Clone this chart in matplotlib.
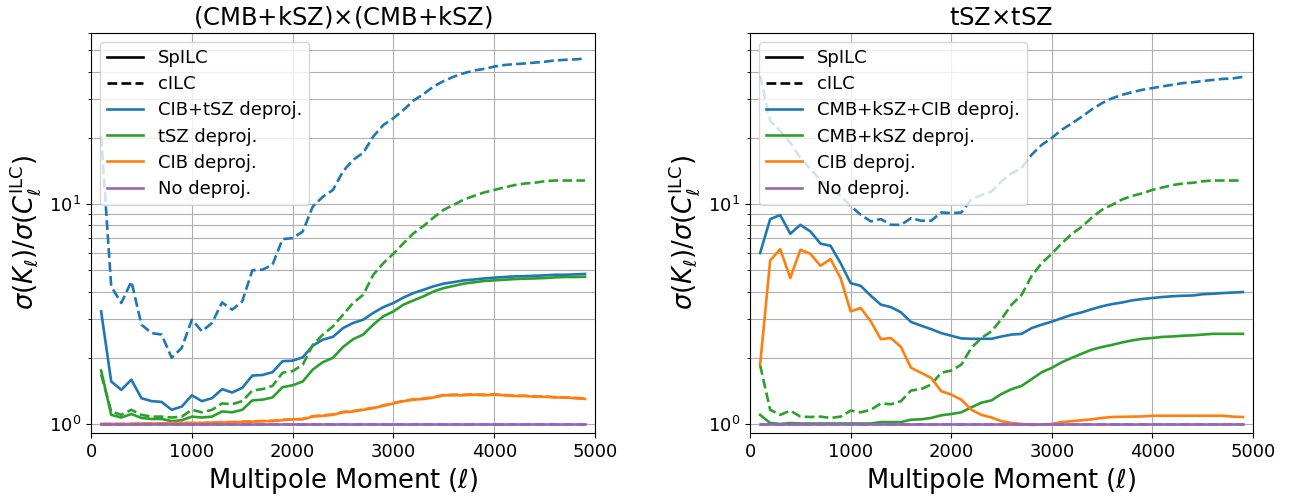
import matplotlib
matplotlib.use("Agg")
import matplotlib.pyplot as plt
from matplotlib.lines import Line2D

# multipoles
ell = [100 * k for k in range(1, 50)]

# ---- left panel: (CMB+kSZ)x(CMB+kSZ) ----
left_cibtsz_sp = [3.25, 1.56, 1.43, 1.59, 1.31, 1.27, 1.26, 1.16, 1.20, 1.35,
                  1.27, 1.31, 1.44, 1.39, 1.46, 1.66, 1.67, 1.72, 1.93, 1.94,
                  2.01, 2.27, 2.42, 2.49, 2.73, 2.88, 2.98, 3.20, 3.40, 3.55,
                  3.76, 3.94, 4.08, 4.23, 4.35, 4.42, 4.50, 4.54, 4.59, 4.63,
                  4.66, 4.69, 4.70, 4.72, 4.74, 4.77, 4.77, 4.79, 4.81]
left_cibtsz_c = [20.3, 4.22, 3.55, 4.45, 2.83, 2.59, 2.55, 2.00, 2.22, 2.98,
                 2.64, 2.88, 3.57, 3.31, 3.61, 5.00, 5.03, 5.30, 6.93, 7.00,
                 7.50, 9.76, 10.8, 11.6, 14.1, 15.9, 17.1, 20.3, 22.9, 24.6,
                 26.8, 29.6, 31.7, 34.3, 36.3, 38.0, 39.4, 40.5, 41.2, 42.2,
                 42.9, 43.3, 43.6, 44.0, 44.4, 45.0, 45.3, 45.5, 45.9]
left_tsz_sp = [1.75, 1.10, 1.07, 1.11, 1.065, 1.054, 1.054, 1.03, 1.04, 1.08,
               1.07, 1.08, 1.14, 1.13, 1.16, 1.28, 1.29, 1.32, 1.47, 1.50,
               1.56, 1.77, 1.91, 2.00, 2.24, 2.43, 2.55, 2.83, 3.09, 3.25,
               3.49, 3.65, 3.81, 4.01, 4.15, 4.25, 4.35, 4.41, 4.47, 4.50,
               4.53, 4.56, 4.58, 4.59, 4.61, 4.64, 4.66, 4.66, 4.67]
left_tsz_c = [1.68, 1.14, 1.10, 1.16, 1.10, 1.08, 1.08, 1.07, 1.08, 1.16,
              1.13, 1.16, 1.24, 1.23, 1.27, 1.42, 1.44, 1.49, 1.71, 1.74,
              1.86, 2.29, 2.55, 2.78, 3.14, 3.55, 3.87, 4.77, 5.39, 5.95,
              6.64, 7.37, 7.96, 8.70, 9.43, 9.93, 10.5, 10.9, 11.3, 11.6,
              11.9, 12.2, 12.4, 12.5, 12.7, 12.8, 12.8, 12.8, 12.8]
left_cib_sp = [1.00, 1.00, 1.00, 1.00, 1.005, 1.005, 1.005, 1.01, 1.01, 1.01,
               1.01, 1.015, 1.015, 1.02, 1.02, 1.025, 1.03, 1.03, 1.04, 1.05,
               1.05, 1.08, 1.09, 1.10, 1.13, 1.14, 1.16, 1.18, 1.21, 1.24,
               1.27, 1.29, 1.30, 1.32, 1.35, 1.35, 1.35, 1.36, 1.35, 1.36,
               1.35, 1.34, 1.34, 1.33, 1.33, 1.32, 1.32, 1.31, 1.30]
left_cib_c = [1.00, 1.00, 1.00, 1.00, 1.005, 1.005, 1.005, 1.01, 1.01, 1.01,
              1.01, 1.015, 1.02, 1.02, 1.025, 1.03, 1.03, 1.035, 1.045, 1.05,
              1.055, 1.085, 1.095, 1.105, 1.135, 1.145, 1.165, 1.185, 1.215, 1.245,
              1.275, 1.295, 1.305, 1.325, 1.355, 1.36, 1.36, 1.365, 1.36, 1.365,
              1.355, 1.345, 1.345, 1.335, 1.335, 1.325, 1.32, 1.315, 1.305]
left_none = [1.0] * 49

# ---- right panel: tSZ x tSZ ----
right_all_sp = [5.99, 8.55, 8.91, 7.33, 8.05, 7.51, 6.61, 6.46, 5.39, 4.37,
                4.25, 3.83, 3.49, 3.40, 3.22, 2.91, 2.80, 2.70, 2.59, 2.52,
                2.45, 2.44, 2.44, 2.44, 2.50, 2.55, 2.57, 2.73, 2.83, 2.92,
                3.03, 3.14, 3.22, 3.33, 3.43, 3.51, 3.57, 3.65, 3.70, 3.74,
                3.78, 3.81, 3.83, 3.84, 3.89, 3.91, 3.94, 3.96, 3.98]
right_all_c = [38.3, 23.9, 21.5, 19.0, 16.2, 14.4, 12.9, 11.9, 10.9, 9.8,
               8.95, 8.34, 8.55, 8.05, 8.05, 8.63, 8.40, 8.40, 9.16, 9.10,
               9.16, 10.5, 11.0, 11.4, 12.7, 13.8, 14.6, 16.8, 18.6, 20.0,
               21.8, 23.3, 25.0, 27.0, 28.8, 30.3, 31.4, 32.3, 33.1, 33.7,
               34.3, 34.9, 35.5, 35.8, 36.3, 36.7, 37.1, 37.3, 37.9]
right_cmb_sp = [1.10, 1.01, 1.00, 1.01, 1.005, 1.005, 1.005, 1.005, 1.005, 1.005,
                1.005, 1.005, 1.02, 1.02, 1.02, 1.046, 1.05, 1.065, 1.095, 1.11,
                1.13, 1.19, 1.25, 1.28, 1.37, 1.44, 1.49, 1.60, 1.72, 1.80,
                1.91, 2.00, 2.09, 2.18, 2.24, 2.29, 2.35, 2.40, 2.44, 2.46,
                2.49, 2.50, 2.52, 2.53, 2.55, 2.57, 2.57, 2.57, 2.57]
right_cmb_c = [1.85, 1.16, 1.10, 1.15, 1.08, 1.076, 1.08, 1.065, 1.08, 1.15,
               1.13, 1.16, 1.24, 1.23, 1.27, 1.42, 1.44, 1.51, 1.71, 1.75,
               1.86, 2.22, 2.46, 2.64, 3.00, 3.49, 3.87, 4.72, 5.39, 5.95,
               6.64, 7.33, 7.90, 8.70, 9.43, 9.93, 10.5, 10.9, 11.2, 11.6,
               11.9, 12.2, 12.4, 12.5, 12.7, 12.8, 12.8, 12.8, 12.8]
right_cib_sp = [1.86, 5.54, 6.24, 4.61, 6.20, 5.94, 5.24, 5.62, 4.61, 3.25,
                3.37, 2.93, 2.43, 2.46, 2.24, 1.80, 1.71, 1.62, 1.41, 1.36,
                1.29, 1.16, 1.10, 1.07, 1.03, 1.01, 1.00, 0.99, 0.993, 1.00,
                1.02, 1.03, 1.04, 1.05, 1.065, 1.076, 1.078, 1.08, 1.082, 1.09,
                1.09, 1.09, 1.09, 1.09, 1.09, 1.09, 1.09, 1.08, 1.076]
right_none = [1.0] * 49

titles = [r"(CMB+kSZ)$\times$(CMB+kSZ)", r"tSZ$\times$tSZ"]
left_labels = ["CIB+tSZ deproj.", "tSZ deproj.", "CIB deproj.", "No deproj."]
right_labels = ["CMB+kSZ+CIB deproj.", "CMB+kSZ deproj.", "CIB deproj.", "No deproj."]

lw = 1.9

fig = plt.figure(figsize=(12.97, 4.99), dpi=100)
ax1 = fig.add_axes([0.0702, 0.1323, 0.3886, 0.8016])
ax2 = fig.add_axes([0.5783, 0.1323, 0.3878, 0.8016])

# left
ax1.plot(ell, left_cibtsz_sp, color="C0", lw=lw)
ax1.plot(ell, left_cibtsz_c, color="C0", ls="--", lw=lw)
ax1.plot(ell, left_tsz_sp, color="C2", lw=lw)
ax1.plot(ell, left_tsz_c, color="C2", ls="--", lw=lw)
ax1.plot(ell, left_cib_sp, color="C1", lw=lw)
ax1.plot(ell, left_cib_c, color="C1", ls="--", lw=lw)
ax1.plot(ell, left_none, color="C4", lw=lw)
ax1.plot(ell, left_none, color="C4", ls="--", lw=lw)

# right
ax2.plot(ell, right_all_sp, color="C0", lw=lw)
ax2.plot(ell, right_all_c, color="C0", ls="--", lw=lw)
ax2.plot(ell, right_cmb_sp, color="C2", lw=lw)
ax2.plot(ell, right_cmb_c, color="C2", ls="--", lw=lw)
ax2.plot(ell, right_cib_sp, color="C1", lw=lw)
ax2.plot(ell, right_none, color="C4", lw=lw)
ax2.plot(ell, right_none, color="C4", ls="--", lw=lw)

for ax, title, labels in zip([ax1, ax2], titles, [left_labels, right_labels]):
    ax.set_yscale("log")
    ax.set_xlim(0, 5000)
    ax.set_ylim(0.91, 60)
    ax.grid(True, which="both")
    ax.set_title(title, fontsize=17.5)
    ax.set_xlabel(r"Multipole Moment ($\ell$)", fontsize=18.5)
    ax.set_ylabel(r"$\sigma(K_\ell)/\sigma(C_\ell^{\rm ILC})$", fontsize=18.5)
    ax.tick_params(labelsize=13)
    handles = [Line2D([], [], color="k", ls="-", lw=lw),
               Line2D([], [], color="k", ls="--", lw=lw),
               Line2D([], [], color="C0", lw=lw),
               Line2D([], [], color="C2", lw=lw),
               Line2D([], [], color="C1", lw=lw),
               Line2D([], [], color="C4", lw=lw)]
    ax.legend(handles, ["SpILC", "cILC"] + labels, loc="upper left",
              fontsize=13, labelspacing=0.45)

fig.savefig("out.png", dpi=100)
